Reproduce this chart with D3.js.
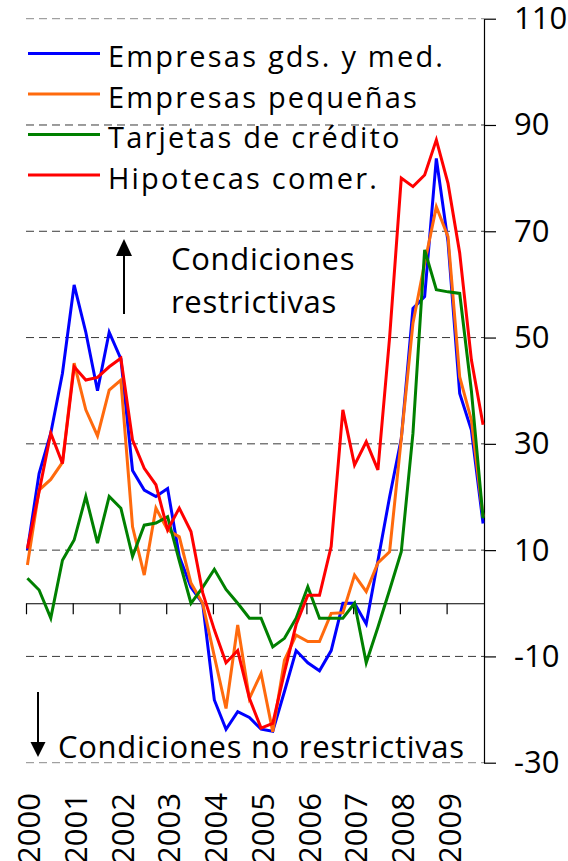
<!DOCTYPE html>
<html>
<head>
<meta charset="utf-8">
<script src="https://cdn.jsdelivr.net/npm/d3@7"></script>
<style>
  body { margin: 0; background: #fff; }
  svg text { font-family: 'Open Sans', sans-serif; fill: #000; }
</style>
</head>
<body>
<svg id="chart" width="568" height="861"></svg>
<script>
// Quarterly survey, 2000T1 .. 2009T4
const quarters = [
  '2000T1','2000T2','2000T3','2000T4','2001T1','2001T2','2001T3','2001T4',
  '2002T1','2002T2','2002T3','2002T4','2003T1','2003T2','2003T3','2003T4',
  '2004T1','2004T2','2004T3','2004T4','2005T1','2005T2','2005T3','2005T4',
  '2006T1','2006T2','2006T3','2006T4','2007T1','2007T2','2007T3','2007T4',
  '2008T1','2008T2','2008T3','2008T4','2009T1','2009T2','2009T3','2009T4'
];

const grandes = [10, 24.4, 32, 43.3, 59.9, 51, 40, 51, 46, 25, 21.3, 20.1, 21.6, 8.8, 3, 0,
  -18.2, -23.7, -20.4, -21.5, -23.7, -24.1, -16.6, -8.9, -11.2, -12.7, -8.9, 0, 0, -3.9,
  8, 20, 31, 55.5, 57.7, 83.7, 68, 39.5, 32.6, 15];
const pequenas = [7.2, 21.3, 23.3, 26.5, 45.2, 36.4, 31.5, 40.1, 42, 14.4, 5.3, 17.9, 13.8, 12.5, 3.8, 0,
  -10, -19.8, -4.1, -17.9, -13.2, -24.2, -10.7, -6, -7.2, -7.2, -1.9, -1.8, 5.3, 2.2,
  7.6, 9.7, 31, 52.7, 64, 74.6, 69, 42.6, 34.5, 16.3];
const tarjetas = [4.7, 2.5, -2.8, 8.1, 11.9, 20.1, 11.3, 20.1, 17.9, 8.8, 14.7, 15.1, 16.3, 8, 0, 3,
  6.4, 2.6, 0, -2.8, -2.8, -8.2, -6.6, -2.8, 3.1, -2.8, -2.8, -2.8, 0, -11.2,
  -4.5, 2.5, 9.7, 32, 66.5, 59, 58.6, 58.3, 40, 16];
const hipotecas = [10.3, 21, 32, 26.3, 44.5, 42, 42.5, 44.5, 46.1, 30.7, 25.4, 22.3, 13.8, 17.9, 13.5, 2,
  -5, -11.2, -8.9, -17.9, -23.5, -22.6, -13, -4, 1.5, 1.5, 10.7, 36.4, 26, 30.4,
  25.1, 50, 80, 78.4, 80.6, 87.2, 79, 65.9, 45.8, 33.6];

const seriesNames = ['Empresas gds. y med.', 'Empresas pequeñas', 'Tarjetas de crédito', 'Hipotecas comer.'];
const seriesColors = ['#0000ff', '#ff6a0d', '#008000', '#ff0000'];
const seriesValues = [grandes, pequenas, tarjetas, hipotecas];

const years = [2000, 2001, 2002, 2003, 2004, 2005, 2006, 2007, 2008, 2009];
const yTicks = [-30, -10, 10, 30, 50, 70, 90, 110];

const svg = d3.select('#chart');

// scales: x in fractional years, y in balance points
const x = d3.scaleLinear().domain([2000, 2009.8]).range([26, 484]);
const y = d3.scaleLinear().domain([-30, 110]).range([762.7, 18.7]);

// survey taken a little after the start of each quarter
const qPos = q => +q.slice(0, 4) + (+q.slice(5) - 1) / 4 + 0.03;

// dashed gridlines
svg.append('g')
  .selectAll('line')
  .data(yTicks)
  .join('line')
    .attr('x1', x(2000))
    .attr('x2', x(2009.8))
    .attr('y1', d => y(d))
    .attr('y2', d => y(d))
    .attr('stroke', d => (d === 110 || d === -30) ? '#8a8a8a' : '#3a3a3a')
    .attr('stroke-width', 1)
    .attr('stroke-dasharray', '8,5');

// zero line with year ticks
const xAxis = d3.axisBottom(x)
  .tickValues(years)
  .tickSize(11)
  .tickSizeOuter(0)
  .tickFormat('');
const xAxisG = svg.append('g')
  .attr('transform', `translate(0,${y(0)})`)
  .call(xAxis);
xAxisG.selectAll('path, line').attr('stroke', '#000').attr('stroke-width', 1.2);

// right value axis
const yAxis = d3.axisRight(y)
  .tickValues(yTicks)
  .tickSize(12)
  .tickSizeOuter(0)
  .tickPadding(18)
  .tickFormat(d => String(d));
const yAxisG = svg.append('g')
  .attr('transform', `translate(${x(2009.8)},0)`)
  .call(yAxis);
yAxisG.selectAll('path, line').attr('stroke', '#000').attr('stroke-width', 1.2);
yAxisG.selectAll('text')
  .style('font-family', "'Open Sans', sans-serif")
  .style('font-size', '31px')
  .attr('fill', '#000');

// year labels, rotated
svg.append('g')
  .selectAll('text')
  .data(years)
  .join('text')
    .attr('transform', d => `translate(${x(d) + 3},793) rotate(-90)`)
    .attr('text-anchor', 'end')
    .attr('dy', '0.36em')
    .style('font-size', '31px')
    .text(d => d);

// series lines
const line = d3.line()
  .x((d, i) => x(qPos(quarters[i])))
  .y(d => y(d));

svg.append('g')
  .selectAll('path')
  .data(seriesValues)
  .join('path')
    .attr('d', d => line(d))
    .attr('fill', 'none')
    .attr('stroke', (d, i) => seriesColors[i])
    .attr('stroke-width', 3)
    .attr('stroke-linejoin', 'miter');

// legend
const legend = svg.append('g');
seriesNames.forEach((name, i) => {
  const base = 67 + i * 40.5;
  legend.append('line')
    .attr('x1', 28).attr('x2', 100)
    .attr('y1', base - 13.5).attr('y2', base - 13.5)
    .attr('stroke', seriesColors[i])
    .attr('stroke-width', 3);
  legend.append('text')
    .attr('x', 108)
    .attr('y', base)
    .style('font-size', '29px')
    .style('letter-spacing', '2.2px')
    .text(name);
});

// annotations
svg.append('line')
  .attr('x1', 124).attr('x2', 124)
  .attr('y1', 254).attr('y2', 314)
  .attr('stroke', '#000').attr('stroke-width', 2);
svg.append('path')
  .attr('d', 'M124,239 L116,256 L132,256 Z')
  .attr('fill', '#000');
svg.append('text')
  .attr('x', 171).attr('y', 270)
  .style('font-size', '31px')
  .style('letter-spacing', '0.7px')
  .text('Condiciones');
svg.append('text')
  .attr('x', 171).attr('y', 313)
  .style('font-size', '31px')
  .style('letter-spacing', '0.7px')
  .text('restrictivas');

svg.append('line')
  .attr('x1', 38).attr('x2', 38)
  .attr('y1', 692).attr('y2', 744)
  .attr('stroke', '#000').attr('stroke-width', 2);
svg.append('path')
  .attr('d', 'M38,757 L30.5,742 L45.5,742 Z')
  .attr('fill', '#000');
svg.append('text')
  .attr('x', 58).attr('y', 758)
  .style('font-size', '31px')
  .style('letter-spacing', '0.7px')
  .text('Condiciones no restrictivas');
</script>
</body>
</html>
